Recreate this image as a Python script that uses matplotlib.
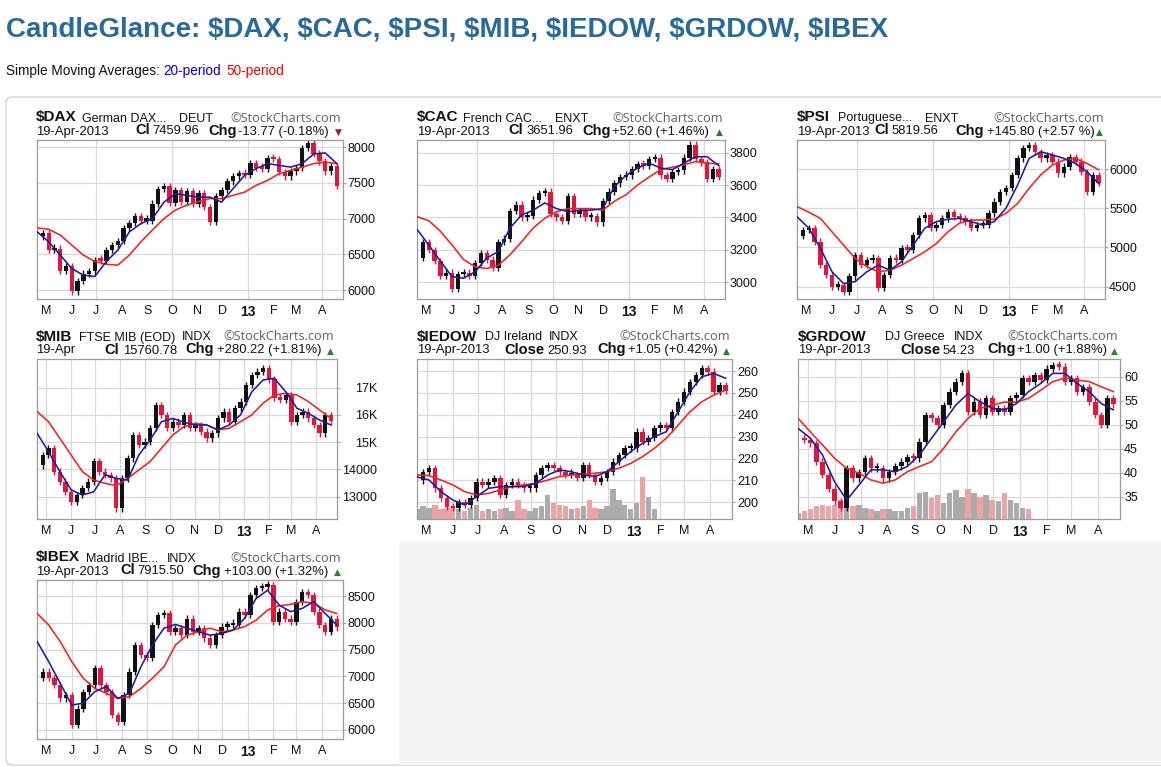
import numpy as np
import matplotlib
matplotlib.use("Agg")
import matplotlib.pyplot as plt
import matplotlib.dates as mdates
from matplotlib.patches import FancyBboxPatch, Rectangle
from matplotlib.transforms import Affine2D

W, H = 1161, 767
plt.rcParams['font.family'] = ['Liberation Sans', 'DejaVu Sans']

# weekly closes (Fridays), 20-Apr-2012 .. 19-Apr-2013
weeks = np.arange(np.datetime64('2012-04-20'), np.datetime64('2013-04-20'), np.timedelta64(7, 'D'))
months = np.arange(np.datetime64('2012-05'), np.datetime64('2013-05')).astype('datetime64[D]')
month_labels = ['M', 'J', 'J', 'A', 'S', 'O', 'N', 'D', '13', 'F', 'M', 'A']

dax_close = [6750, 6800, 6560, 6580, 6270, 6340, 5980, 6130, 6230, 6260, 6420, 6410, 6560, 6630,
             6690, 6870, 6940, 7040, 6970, 6970, 7210, 7410, 7450, 7220, 7400, 7230, 7380, 7200,
             7360, 7160, 6950, 7310, 7400, 7520, 7590, 7640, 7610, 7780, 7710, 7700, 7850, 7830,
             7650, 7590, 7660, 7710, 7990, 8060, 7910, 7800, 7660, 7740, 7460]
dax_sma20 = [6815, 6675, 6490, 6300, 6210, 6190, 6400, 6560, 6815, 6930, 7000, 7230, 7350, 7325,
             7300, 7300, 7230, 7420, 7605, 7700, 7770, 7745, 7720, 7770, 7905, 7920, 7770]
dax_sma50 = [6870, 6850, 6770, 6630, 6490, 6400, 6360, 6350, 6490, 6675, 6840, 7000, 7120, 7190,
             7240, 7280, 7280, 7325, 7370, 7465, 7535, 7630, 7675, 7720, 7770, 7790, 7770]

cac_close = [3150, 3250, 3200, 3130, 3040, 3060, 2960, 3050, 3060, 3040, 3120, 3180, 3140, 3090,
             3250, 3270, 3440, 3480, 3400, 3410, 3510, 3550, 3560, 3420, 3400, 3380, 3530, 3420,
             3440, 3400, 3410, 3370, 3500, 3560, 3610, 3650, 3660, 3700, 3730, 3720, 3760, 3770,
             3660, 3640, 3680, 3690, 3770, 3850, 3760, 3740, 3640, 3700, 3652]
cac_sma20 = [3325, 3230, 3130, 3035, 3025, 3065, 3150, 3190, 3335, 3415, 3445, 3490, 3455, 3435,
             3445, 3445, 3455, 3590, 3660, 3705, 3735, 3705, 3695, 3735, 3775, 3775, 3720]
cac_sma50 = [3405, 3380, 3315, 3230, 3140, 3095, 3085, 3105, 3170, 3250, 3335, 3395, 3435, 3455,
             3455, 3455, 3445, 3500, 3540, 3600, 3650, 3695, 3710, 3725, 3745, 3735, 3730]

psi_close = [5150, 5220, 5245, 5075, 4775, 4650, 4500, 4520, 4435, 4630, 4900, 4775, 4840, 4860,
             4480, 4650, 4860, 4840, 4990, 4970, 5160, 5370, 5415, 5245, 5285, 5370, 5455, 5390,
             5370, 5330, 5245, 5285, 5285, 5435, 5585, 5710, 5755, 5925, 6135, 6265, 6305, 6220,
             6135, 6180, 6095, 5945, 6030, 6155, 6095, 5965, 5710, 5925, 5820]
psi_sma20 = [5390, 5245, 4990, 4690, 4540, 4565, 4690, 4775, 4710, 4820, 5030, 5245, 5330, 5360,
             5370, 5330, 5285, 5330, 5500, 5795, 6135, 6220, 6180, 6135, 6070, 5965, 5815]
psi_sma50 = [5520, 5450, 5370, 5200, 5030, 4860, 4755, 4690, 4710, 4775, 4860, 4945, 5050, 5200,
             5310, 5350, 5350, 5360, 5435, 5560, 5755, 5925, 6050, 6115, 6135, 6070, 5990]

mib_close = [14150, 14530, 14775, 13920, 13550, 13180, 12820, 13060, 13310, 13550, 14290, 13920,
             13800, 13670, 12570, 13670, 14400, 15260, 14900, 15020, 15510, 16360, 16000, 15510,
             15750, 15630, 16000, 15510, 15630, 15390, 15140, 15320, 15870, 16120, 15750, 16240,
             16490, 17100, 17460, 17590, 17710, 17300, 16610, 16550, 16730, 15750, 16000, 16120,
             15870, 15630, 15320, 16000, 15760]
mib_sma20 = [15320, 14650, 13920, 13250, 13060, 13180, 13800, 13670, 13610, 14530, 15080, 15750,
             15870, 15730, 15630, 15630, 15450, 15630, 16000, 16850, 17280, 17340, 16850, 16240,
             16060, 15810, 15630]
mib_sma50 = [16120, 15750, 15140, 14530, 13920, 13610, 13490, 13400, 13670, 13980, 14290, 14775,
             15260, 15570, 15690, 15630, 15450, 15510, 15750, 16000, 16430, 16730, 16790, 16730,
             16490, 16180, 15870]

ied_close = [210, 214, 215.5, 206.4, 201.9, 198, 197.3, 200.3, 198.8, 201.9, 209.5, 208, 209.5,
             211, 203.4, 208, 209.5, 208, 206.4, 206.4, 212.5, 215.6, 217, 215.6, 214, 212.5,
             212.5, 211, 217, 212.5, 209.5, 211, 214, 218.6, 221.6, 224.7, 224.7, 232.3, 227.7,
             229.3, 233.8, 235.3, 233.8, 241.4, 246, 250.6, 255.1, 258.2, 261.2, 259.7, 250.6,
             253.6, 250.9]
ied_sma20 = [211.6, 210.2, 204.9, 201.1, 198.8, 202.6, 206.4, 207.2, 207.2, 207.2, 208.7, 212.5,
             214.8, 214, 212.5, 211.8, 214, 218.6, 223.2, 227, 230, 232.3, 241.4, 250.6, 257.4,
             258.9, 256.7]
ied_sma50 = [212.5, 212.2, 210.2, 208, 204.9, 203.4, 204.1, 205.7, 207.2, 208, 208.7, 210.2,
             211.8, 212.5, 212.8, 213.3, 214, 215.6, 217.8, 220.9, 224.7, 229.3, 235.3, 241.4,
             246, 249, 251.3]
# volume, % of plot height, weekly until late Jan
ied_vol = [6, 8, 7, 9, 6, 7, 8, 6, 5, 7, 9, 5, 6, 5, 6, 7, 5, 12, 6, 5, 7, 8, 15, 10, 9, 8, 6,
           7, 8, 12, 7, 6, 8, 19, 12, 9, 6, 10, 26, 14, 6]

grd_close = [47.2, 46.8, 46.1, 42.3, 39.5, 36.7, 34, 32.6, 40.9, 38.8, 40.2, 43, 40.9, 40.9, 38.8,
             40.2, 41.3, 42.3, 43.3, 43, 46.5, 52, 51.3, 49.9, 54.1, 56.9, 59, 60.7, 52.7, 54.8,
             52, 55.5, 52.7, 53.4, 52.7, 55.5, 56.2, 59.7, 59, 60.3, 59.3, 61.7, 62.4, 62.1, 59,
             59.7, 56.9, 57.9, 54.8, 52, 49.9, 55.5, 54.23]
grd_sma20 = [49.2, 47.2, 43.7, 38.1, 34.3, 37.4, 40.6, 40.6, 40.2, 41.3, 43.7, 47.2, 50.6, 54.1,
             56.5, 54.8, 53.4, 53.1, 54.4, 56.9, 58.6, 60.7, 60.7, 58.6, 56.9, 54.4, 53.1]
grd_sma50 = [51.3, 48.5, 45.8, 43, 40.9, 39.9, 38.5, 37.8, 38.5, 40.2, 41.3, 42.3, 45.1, 48.5,
             51.3, 53.4, 54.1, 54.7, 54.7, 55.5, 57.2, 59, 59.7, 59.3, 59, 57.9, 56.9]
grd_vol = [4, 5, 6, 8, 9, 8, 9, 12, 11, 8, 9, 7, 6, 5, 6, 6, 5, 5, 7, 8, 16, 17, 13, 15, 10, 16,
           18, 14, 19, 16, 14, 15, 12, 11, 16, 12, 10, 7, 6]

ibex_close = [6965, 7090, 6965, 6840, 6590, 6650, 6090, 6400, 6715, 6840, 7150, 6840, 6715, 6280,
              6155, 6650, 7090, 7585, 7400, 7340, 7960, 8145, 8175, 7835, 7900, 7770, 8080, 7835,
              7900, 7710, 7585, 7770, 7930, 7960, 7960, 8210, 8145, 8520, 8645, 8675, 8705, 8020,
              8210, 8080, 8020, 8395, 8580, 8520, 8210, 7960, 7835, 8080, 7915]
ibex_sma20 = [7650, 7275, 6870, 6465, 6500, 6715, 6810, 6590, 6685, 7180, 7585, 7900, 7970, 7900,
              7835, 7770, 7800, 7865, 8085, 8455, 8610, 8330, 8210, 8270, 8395, 8175, 7960]
ibex_sma50 = [8175, 7960, 7650, 7275, 6965, 6775, 6685, 6590, 6620, 6775, 6965, 7180, 7585, 7770,
              7835, 7900, 7835, 7865, 7930, 8050, 8240, 8320, 8345, 8395, 8365, 8240, 8175]

panels = [
    dict(close=dax_close, s20=dax_sma20, s50=dax_sma50, box=(37, 140, 343, 299),
         ylim=(5875, 8100), yt=[6000, 6500, 7000, 7500, 8000], ylab=None, quarterly=True, labr=375,
         head=[('$DAX', 36, 1, 'sym'), ('German DAX...', 82, 1, 'desc'), ('DEUT', 179, 1, 'desc'),
               ('©StockCharts.com', 230, 1, 'sc'), ('19-Apr-2013', 36, 2, 'txt'), ('Cl', 135, 2, 'key'),
               ('7459.96', 152, 2, 'txt'), ('Chg', 208, 2, 'key'), ('-13.77 (-0.18%)', 238, 2, 'txt'),
               ('▼', 338, 2, 'dn')]),
    dict(close=cac_close, s20=cac_sma20, s50=cac_sma50, box=(417, 140, 725, 299),
         ylim=(2897, 3878), yt=[3000, 3200, 3400, 3600, 3800], ylab=None, quarterly=True, labr=757,
         head=[('$CAC', 417, 1, 'sym'), ('French CAC...', 463, 1, 'desc'), ('ENXT', 555, 1, 'desc'),
               ('©StockCharts.com', 612, 1, 'sc'), ('19-Apr-2013', 417, 2, 'txt'), ('Cl', 508, 2, 'key'),
               ('3651.96', 526, 2, 'txt'), ('Chg', 582, 2, 'key'), ('+52.60 (+1.46%)', 612, 2, 'txt'),
               ('▲', 719, 2, 'up')]),
    dict(close=psi_close, s20=psi_sma20, s50=psi_sma50, box=(797, 140, 1105, 299),
         ylim=(4343, 6370), yt=[4500, 5000, 5500, 6000], ylab=None, quarterly=True, labr=1137,
         head=[('$PSI', 797, 1, 'sym'), ('Portuguese...', 838, 1, 'desc'), ('ENXT', 925, 1, 'desc'),
               ('©StockCharts.com', 993, 1, 'sc'), ('19-Apr-2013', 797, 2, 'txt'), ('Cl', 874, 2, 'key'),
               ('5819.56', 892, 2, 'txt'), ('Chg', 955, 2, 'key'), ('+145.80 (+2.57 %)', 987, 2, 'txt'),
               ('▲', 1099, 2, 'up')]),
    dict(close=mib_close, s20=mib_sma20, s50=mib_sma50, box=(37, 359, 337, 519),
         ylim=(12180, 18050), yt=[13000, 14000, 15000, 16000, 17000],
         ylab=['13000', '14000', '15K', '16K', '17K'], quarterly=False, labr=377,
         head=[('$MIB', 36, 1, 'sym'), ('FTSE MIB (EOD)', 79, 1, 'desc'), ('INDX', 182, 1, 'desc'),
               ('©StockCharts.com', 223, 1, 'sc'), ('19-Apr', 36, 2, 'txt'), ('Cl', 104, 2, 'key'),
               ('15760.78', 123, 2, 'txt'), ('Chg', 185, 2, 'key'), ('+280.22 (+1.81%)', 217, 2, 'txt'),
               ('▲', 330, 2, 'up')]),
    dict(close=ied_close, s20=ied_sma20, s50=ied_sma50, vol=ied_vol, box=(417, 359, 732, 519),
         ylim=(192.4, 265.5), yt=[200, 210, 220, 230, 240, 250, 260], ylab=None, quarterly=False, labr=758,
         head=[('$IEDOW', 417, 1, 'sym'), ('DJ Ireland', 485, 1, 'desc'), ('INDX', 549, 1, 'desc'),
               ('©StockCharts.com', 619, 1, 'sc'), ('19-Apr-2013', 417, 2, 'txt'), ('Close', 504, 2, 'key'),
               ('250.93', 547, 2, 'txt'), ('Chg', 597, 2, 'key'), ('+1.05 (+0.42%)', 628, 2, 'txt'),
               ('▲', 726, 2, 'up')]),
    dict(close=grd_close, s20=grd_sma20, s50=grd_sma50, vol=grd_vol, box=(798, 359, 1120, 519),
         ylim=(30.35, 63.7), yt=[35, 40, 45, 50, 55, 60], ylab=None, quarterly=False, labr=1138,
         head=[('$GRDOW', 798, 1, 'sym'), ('DJ Greece', 885, 1, 'desc'), ('INDX', 954, 1, 'desc'),
               ('©StockCharts.com', 1007, 1, 'sc'), ('19-Apr-2013', 798, 2, 'txt'), ('Close', 900, 2, 'key'),
               ('54.23', 943, 2, 'txt'), ('Chg', 987, 2, 'key'), ('+1.00 (+1.88%)', 1017, 2, 'txt'),
               ('▲', 1114, 2, 'up')]),
    dict(close=ibex_close, s20=ibex_sma20, s50=ibex_sma50, box=(37, 580, 343, 739),
         ylim=(5832, 8800), yt=[6000, 6500, 7000, 7500, 8000, 8500], ylab=None, quarterly=False, labr=375,
         head=[('$IBEX', 36, 1, 'sym'), ('Madrid IBE...', 86, 1, 'desc'), ('INDX', 167, 1, 'desc'),
               ('©StockCharts.com', 230, 1, 'sc'), ('19-Apr-2013', 36, 2, 'txt'), ('Cl', 120, 2, 'key'),
               ('7915.50', 137, 2, 'txt'), ('Chg', 192, 2, 'key'), ('+103.00 (+1.32%)', 224, 2, 'txt'),
               ('▲', 337, 2, 'up')]),
]

styles = {
    'sym': dict(fontsize=11, fontweight='bold', color='#111111'),
    'desc': dict(fontsize=9, color='#111111'),
    'sc': dict(fontsize=9.2, family=['Open Sans', 'DejaVu Sans'], color='#606060'),
    'txt': dict(fontsize=9.4, color='#111111'),
    'key': dict(fontsize=10.5, fontweight='bold', color='#111111'),
    'up': dict(fontsize=6.5, color='#2e7d32', family='DejaVu Sans', ha='center'),
    'dn': dict(fontsize=6.5, color='#9e1b32', family='DejaVu Sans', ha='center'),
}

fig = plt.figure(figsize=(W / 100, H / 100), dpi=100)
pix = Affine2D().scale(1.0 / W, -1.0 / H).translate(0, 1) + fig.transFigure


def ftext(x, y, s, **kw):
    kw.setdefault('ha', 'left')
    kw.setdefault('va', 'baseline')
    fig.text(x / W, 1 - y / H, s, **kw)


# page background
fig.patches.append(FancyBboxPatch((6, 97), 1170, 668, boxstyle='round,pad=0,rounding_size=6',
                                  transform=pix, facecolor='white', edgecolor='#d4d4d4', lw=1,
                                  zorder=-10))
fig.patches.append(Rectangle((398.5, 541), 763, 223.5, transform=pix, facecolor='#f4f5f7',
                             edgecolor='none', zorder=-9))

ftext(6, 36.5, 'CandleGlance: $DAX, $CAC, $PSI, $MIB, $IEDOW, $GRDOW, $IBEX',
      fontsize=20, fontweight='bold', color='#276a9a')
ftext(6, 75.5, 'Simple Moving Averages:', fontsize=9.8, color='#111111')
ftext(163, 75.5, '20-period', fontsize=9.8, color='#0000ff')
ftext(226, 75.5, '50-period', fontsize=9.8, color='#ff0000')

xw = mdates.date2num(weeks)
xs = xw[::2]
xm = mdates.date2num(months)
xlim = (mdates.date2num(np.datetime64('2012-04-19T18')), mdates.date2num(np.datetime64('2013-04-26T14')))
quarters = [xm[2], xm[5], xm[8], xm[11]]

for p in panels:
    l, t, r, b = p['box']
    ax = fig.add_axes([l / W, 1 - b / H, (r - l) / W, (b - t) / H])
    ax.set_axisbelow(True)
    close = np.array(p['close'], dtype=float)
    lo, hi = p['ylim']
    span = hi - lo

    for xv in (quarters if p['quarterly'] else xm):
        ax.axvline(xv, color='#d9d9d9', lw=0.9, zorder=0)

    up = np.r_[True, close[1:] >= close[:-1]]
    if 'vol' in p:
        vol = np.array(p['vol'], dtype=float) / 100.0
        n = len(vol)
        vcol = ['#ababab' if u else '#eba3a3' for u in up[:n]]
        ax.bar(xw[:n], vol, width=6.3, bottom=0, color=vcol, lw=0,
               transform=ax.get_xaxis_transform(), zorder=1)

    # weekly candle bodies (prev close -> close) with short wicks
    bot = np.minimum(close[1:], close[:-1])
    hgt = np.maximum(np.abs(close[1:] - close[:-1]), span * 0.015)
    ccol = ['#111111' if u else '#e0163c' for u in up[1:]]
    ext = span * 0.02
    ax.vlines(xw[1:], bot - ext, bot + hgt + ext, colors=ccol, lw=1.0, zorder=2)
    ax.bar(xw[1:], hgt, width=5.4, bottom=bot, color=ccol, lw=0, zorder=2)

    ax.plot(xs, p['s50'], color='#ff1f1f', lw=1.15, zorder=3)
    ax.plot(xs, p['s20'], color='#1c1ca0', lw=1.15, zorder=4)

    ax.set_xlim(*xlim)
    ax.set_ylim(lo, hi)
    ax.set_xticks(xm)
    ax.set_xticklabels(month_labels)
    ax.tick_params(axis='x', length=0, pad=4, labelsize=9, labelcolor='#111111')
    ax.get_xticklabels()[8].set_fontweight('bold')
    ax.get_xticklabels()[8].set_fontsize(10)

    ax.yaxis.tick_right()
    ax.set_yticks(p['yt'])
    ax.set_yticklabels(p['ylab'] if p['ylab'] else [str(v) for v in p['yt']])
    tick_len = 2.5
    pad = (p['labr'] - r) / (100 / 72) - tick_len
    ax.tick_params(axis='y', length=tick_len, color='#aaaaaa', pad=pad, labelsize=9,
                   labelcolor='#111111')
    for lab in ax.get_yticklabels():
        lab.set_horizontalalignment('right')
    ax.yaxis.grid(True, color='#d9d9d9', lw=0.9)
    for s in ax.spines.values():
        s.set_color('#9c9c9c')
        s.set_linewidth(0.9)

    for text, x, line, st in p['head']:
        y = t - 18.5 if line == 1 else t - 5.5
        ftext(x, y, text, **styles[st])

fig.savefig('out.png', dpi=100)
